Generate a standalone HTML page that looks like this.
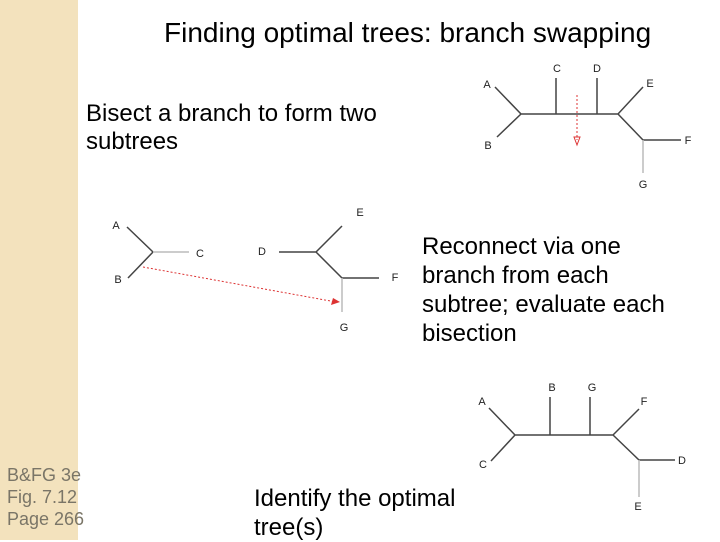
<!DOCTYPE html>
<html><head><style>
body{margin:0;width:720px;height:540px;background:#fff;position:relative;overflow:hidden;font-family:"Liberation Sans",sans-serif;}
.strip{position:absolute;left:0;top:0;width:78px;height:540px;background:#f3e2bd;}
.t{position:absolute;color:#000;white-space:nowrap;}
</style></head><body>
<div class="strip"></div>
<div class="t" style="left:164px;top:17px;font-size:28px;">Finding optimal trees: branch swapping</div>
<div class="t" style="left:86px;top:100px;font-size:24px;line-height:28px;">Bisect a branch to form two<br>subtrees</div>
<div class="t" style="left:422px;top:232px;font-size:24px;line-height:29px;">Reconnect via one<br>branch from each<br>subtree; evaluate each<br>bisection</div>
<div class="t" style="left:254px;top:484px;font-size:24px;line-height:29px;">Identify the optimal<br>tree(s)</div>
<div class="t" style="left:7px;top:464px;font-size:18px;line-height:22px;color:#7a7567;">B&amp;FG 3e<br>Fig. 7.12<br>Page 266</div>
<svg width="720" height="540" style="position:absolute;left:0;top:0" font-family="Liberation Sans,sans-serif" font-size="11" fill="#222">
<g stroke="#444" stroke-width="1.5" fill="none">
<path d="M495 87L521 114L497 137M521 114H618M556 78V114M597 78V114M618 114L643 87M618 114L643 140H681"/>
<path d="M127 227L153 252L128 278M279 252H316L342 226M316 252L342 278H379"/>
<path d="M489 408L515 435L491 461M515 435H613M550 397V435M590 397V435M613 435L639 409M613 435L639 460H675"/>
</g>
<g stroke="#bbb" stroke-width="1.5"><path d="M643 140V173M153 252H189M342 278V312M639 460V497"/></g>
<g stroke="#d33" stroke-width="1" stroke-dasharray="2,2" fill="none"><path d="M577 95V140M143 267L336 302"/></g>
<path d="M574 137L580 137L577 145Z" fill="none" stroke="#d33"/>
<path d="M340 302L331 305L333 298Z" fill="#d33"/>
<g text-anchor="middle">
<text x="487" y="88">A</text><text x="488" y="149">B</text><text x="557" y="72">C</text><text x="597" y="72">D</text><text x="650" y="87">E</text><text x="688" y="144">F</text><text x="643" y="188">G</text>
<text x="116" y="229">A</text><text x="118" y="283">B</text><text x="200" y="257">C</text><text x="262" y="255">D</text><text x="360" y="216">E</text><text x="395" y="281">F</text><text x="344" y="331">G</text>
<text x="482" y="405">A</text><text x="483" y="468">C</text><text x="552" y="391">B</text><text x="592" y="391">G</text><text x="644" y="405">F</text><text x="682" y="464">D</text><text x="638" y="510">E</text>
</g>
</svg>
</body></html>
